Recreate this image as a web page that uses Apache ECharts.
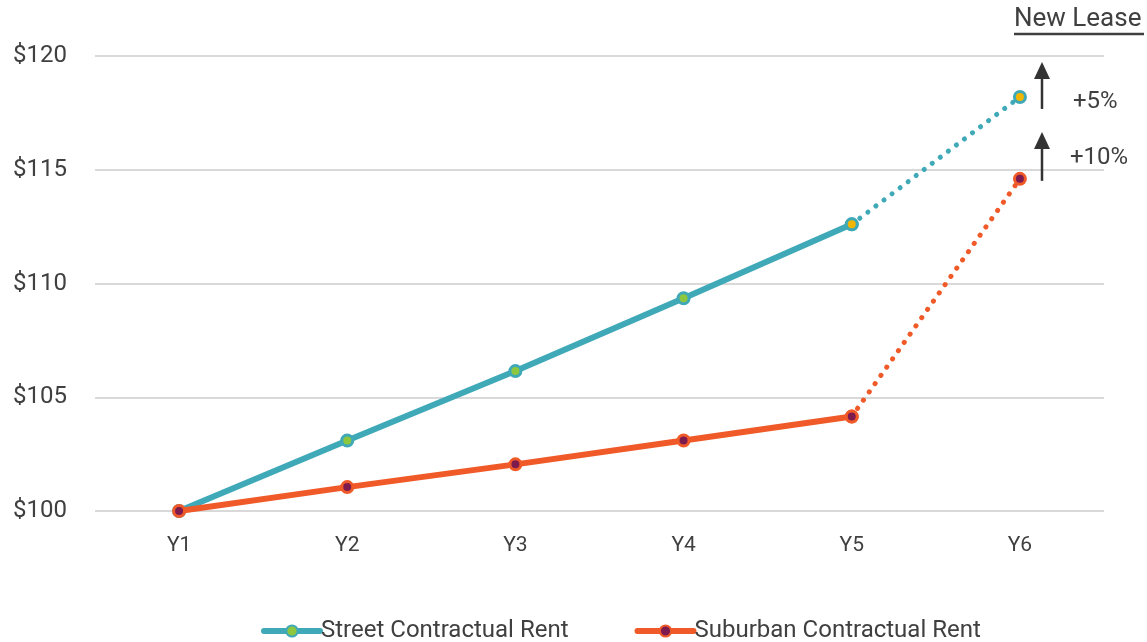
<!DOCTYPE html>
<html>
<head>
<meta charset="utf-8">
<script src="https://cdn.jsdelivr.net/npm/echarts@6/dist/echarts.min.js"></script>
<style>
  html, body { margin: 0; padding: 0; background: #fff; }
  #chart { width: 1147px; height: 642px; }
</style>
</head>
<body>
<div id="chart"></div>
<script>
const years = ['Y1', 'Y2', 'Y3', 'Y4', 'Y5', 'Y6'];
// contractual escalations Y1..Y5
const streetRent = [100, 103.1, 106.15, 109.35, 112.6, null];
const suburbanRent = [100, 101.05, 102.05, 103.1, 104.15, null];
// new lease at Y6 (dotted)
const streetNewLease = [null, null, null, null, 112.6, 118.2];
const suburbanNewLease = [null, null, null, null, 104.15, 114.6];
const yTicks = [100, 105, 110, 115, 120];
const leaseLabels = ['+5%', '+10%'];

const TEAL = '#3fa9b8';
const ORANGE = '#f05a28';
const GREEN = '#8dc63f';
const PURPLE = '#7d1b4f';
const YELLOW = '#f2b600';
const TXT = '#404040';
const FONT = 'Roboto';

const chart = echarts.init(document.getElementById('chart'));

let option = {
  backgroundColor: '#fff',
  animation: false,
  textStyle: { fontFamily: FONT },
  grid: { left: 95, right: 43, top: 56, bottom: 131 },
  legend: {
    bottom: -6,
    left: 256,
    data: ['Street Contractual Rent', 'Suburban Contractual Rent'],
    itemWidth: 56,
    itemHeight: 14,
    itemGap: 66,
    lineStyle: { width: 6, cap: 'round' },
    textStyle: { color: TXT, fontSize: 24, fontFamily: FONT, padding: [0, 0, 0, -4] }
  },
  xAxis: {
    type: 'category',
    data: years,
    boundaryGap: true,
    axisLine: { show: false },
    axisTick: { show: false },
    axisLabel: { color: TXT, fontSize: 21, margin: 24 }
  },
  yAxis: {
    type: 'value',
    min: yTicks[0],
    max: yTicks[yTicks.length - 1],
    interval: 5,
    axisLine: { show: false },
    axisTick: { show: false },
    axisLabel: { color: TXT, fontSize: 24, margin: 28, formatter: v => '$' + v },
    splitLine: { lineStyle: { color: '#d9d9d9', width: 2 } }
  },
  series: [
    {
      name: 'Street Contractual Rent',
      type: 'line',
      data: streetRent,
      symbol: 'circle',
      symbolSize: 11,
      lineStyle: { color: TEAL, width: 6 },
      itemStyle: { color: GREEN, borderColor: TEAL, borderWidth: 3 },
      z: 2
    },
    {
      name: 'Suburban Contractual Rent',
      type: 'line',
      data: suburbanRent,
      symbol: 'circle',
      symbolSize: 11,
      lineStyle: { color: ORANGE, width: 6 },
      itemStyle: { color: PURPLE, borderColor: ORANGE, borderWidth: 3 },
      z: 3
    },
    {
      name: 'Street New Lease',
      type: 'line',
      data: streetNewLease,
      symbol: 'circle',
      symbolSize: 11,
      lineStyle: { color: TEAL, width: 5, type: [0.1, 10], cap: 'round' },
      itemStyle: { color: YELLOW, borderColor: TEAL, borderWidth: 3 },
      z: 4
    },
    {
      name: 'Suburban New Lease',
      type: 'line',
      data: suburbanNewLease,
      symbol: 'circle',
      symbolSize: 11,
      lineStyle: { color: ORANGE, width: 5, type: [0.1, 10], cap: 'round' },
      itemStyle: { color: PURPLE, borderColor: ORANGE, borderWidth: 3 },
      z: 4
    }
  ]
};
chart.setOption(option);

// annotations: arrows for the new lease uplift
function arrow(x, yTop, yBottom) {
  return [
    { type: 'line', shape: { x1: x, y1: yTop + 14, x2: x, y2: yBottom }, style: { stroke: '#333', lineWidth: 2.5 } },
    { type: 'polygon', shape: { points: [[x, yTop], [x - 8, yTop + 17], [x + 8, yTop + 17]] }, style: { fill: '#333' } }
  ];
}
const ax = 1042;
const y120 = chart.convertToPixel({ yAxisIndex: 0 }, 120);
const yStreet = chart.convertToPixel({ yAxisIndex: 0 }, streetNewLease[5]);
const ySub = chart.convertToPixel({ yAxisIndex: 0 }, suburbanNewLease[5]);
let g = [];
g = g.concat(arrow(ax, y120 + 6, yStreet + 12));
g = g.concat(arrow(ax, yStreet + 35, ySub + 2));
g.push({ type: 'text', left: 1073, top: yStreet - 7, style: { text: leaseLabels[0], fill: TXT, fontSize: 24, fontFamily: FONT, letterSpacing: 1 } });
g.push({ type: 'text', left: 1070, top: ySub - 33, style: { text: leaseLabels[1], fill: TXT, fontSize: 24, fontFamily: FONT, letterSpacing: 1 } });
g.push({ type: 'text', left: 1014, top: 6, style: { text: 'New Lease', fill: TXT, fontSize: 26, fontFamily: FONT, letterSpacing: 2.5 } });
g.push({ type: 'line', shape: { x1: 1014, y1: 34, x2: 1144, y2: 34 }, style: { stroke: TXT, lineWidth: 2.5 } });
chart.setOption({ graphic: g });
</script>
</body>
</html>
